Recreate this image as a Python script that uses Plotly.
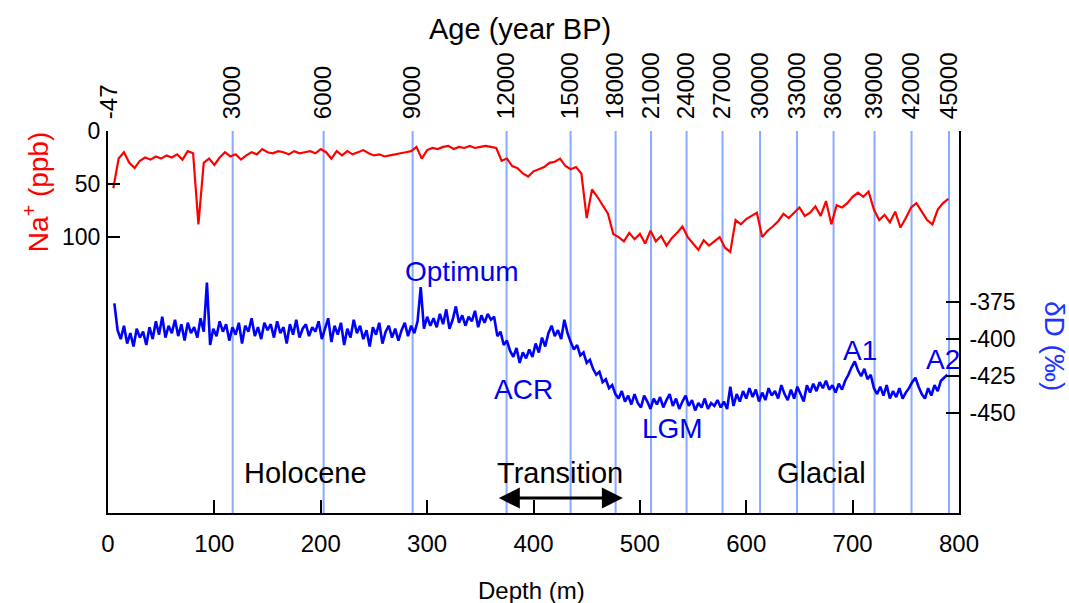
import plotly.graph_objects as go

# ---------------- data ----------------
# Na+ (ppb), sampled every 5 m starting at 5 m depth
na_start, na_step = 5, 5
na_ppb = [54, 26, 20, 30, 35, 28, 25, 27, 24, 26,
          23, 25, 22, 27, 19, 21, 88, 30, 26, 32,
          25, 20, 24, 22, 27, 23, 20, 22, 17, 20,
          21, 19, 20, 22, 19, 21, 20, 19, 21, 17,
          20, 26, 19, 23, 19, 22, 20, 18, 21, 23,
          22, 24, 23, 22, 21, 20, 19, 15, 26, 18,
          16, 17, 15, 14, 17, 15, 16, 14, 16, 15,
          14, 15, 16, 28, 26, 33, 35, 40, 43, 38,
          36, 34, 30, 29, 26, 33, 36, 34, 40, 82,
          55, 62, 70, 78, 97, 100, 104, 96, 102, 97,
          106, 94, 104, 99, 108, 101, 96, 90, 100, 106,
          112, 103, 108, 104, 100, 110, 114, 84, 88, 83,
          80, 77, 100, 94, 90, 85, 78, 82, 77, 72,
          80, 77, 71, 80, 66, 88, 70, 72, 68, 62,
          58, 62, 57, 74, 84, 79, 86, 76, 91, 82,
          72, 68, 76, 84, 88, 74, 68, 64]

# deltaD (permil), sampled every 3 m starting at 6 m depth
dd_start, dd_step = 6, 3
delta_d = [-376, -394, -400, -391, -403, -396, -405, -393, -399, -395,
           -404, -392, -400, -388, -397, -385, -399, -391, -396, -387,
           -398, -390, -401, -389, -396, -392, -399, -386, -395, -362,
           -404, -393, -398, -388, -395, -390, -401, -392, -397, -389,
           -403, -391, -395, -386, -398, -392, -400, -389, -394, -390,
           -399, -388, -396, -392, -403, -390, -397, -387, -399, -393,
           -390, -398, -392, -395, -388, -400, -393, -386, -402, -391,
           -397, -389, -404, -393, -399, -387, -396, -391, -400, -394,
           -405, -392, -397, -389, -403, -395, -391, -399, -393, -401,
           -394, -389, -398, -391, -396, -388, -365, -393, -385, -391,
           -386, -392, -383, -390, -380, -393, -387, -378, -389, -384,
           -391, -385, -388, -381, -392, -384, -389, -383, -387, -385,
           -398, -395, -404, -401, -408, -412, -406, -416, -409, -413,
           -407, -412, -403, -409, -399, -405, -396, -391, -398, -394,
           -400, -387, -396, -402, -407, -404, -411, -409, -416, -414,
           -420, -424, -422, -429, -427, -433, -431, -437, -440, -435,
           -442, -438, -444, -437, -443, -446, -438, -442, -447, -440,
           -444, -439, -446, -441, -437, -445, -440, -447, -442, -438,
           -445, -441, -448, -443, -446, -440, -447, -443, -445, -441,
           -446, -442, -447, -432, -445, -437, -442, -435, -440, -433,
           -439, -434, -442, -436, -441, -433, -438, -435, -440, -431,
           -437, -441, -434, -440, -432, -437, -442, -431, -436, -430,
           -435, -429, -433, -428, -434, -431, -436, -430, -434, -428,
           -424, -419, -415, -421, -425, -420, -427, -424, -433, -437,
           -432, -438, -431, -440, -435, -439, -433, -440, -436, -433,
           -429, -426, -432, -437, -440, -433, -438, -431, -435, -428,
           -426, -424]

# age scale (year BP) and the depth (m) at which each age is reached
age_labels = ["-47", "3000", "6000", "9000", "12000", "15000", "18000", "21000",
              "24000", "27000", "30000", "33000", "36000", "39000", "42000", "45000"]
age_depth = [1, 117.2, 202.7, 286.4, 374.7, 434.9, 477.2, 510.5,
             543.9, 577.7, 613.0, 647.7, 682.1, 720.6, 755.4, 790.6]

depth_ticks = [0, 100, 200, 300, 400, 500, 600, 700, 800]
na_ticks = [0, 50, 100]
dd_ticks = [-375, -400, -425, -450]
dd_tick_text = ["-375", "-400", "-425", "-450"]
transition_span = [366, 484]   # depth range of the transition arrow

na_depth = [na_start + na_step * i for i in range(len(na_ppb))]
dd_depth = [dd_start + dd_step * i for i in range(len(delta_d))]

FONT = "Arial, Liberation Sans, sans-serif"
GRID = "#88aaff"

fig = go.Figure()
fig.add_trace(go.Scatter(x=na_depth, y=na_ppb, mode="lines",
                         line=dict(color="#ff0000", width=2.2, simplify=False),
                         xaxis="x", yaxis="y", showlegend=False, hoverinfo="skip"))
fig.add_trace(go.Scatter(x=dd_depth, y=delta_d, mode="lines",
                         line=dict(color="#0000ff", width=2.6, simplify=False),
                         xaxis="x", yaxis="y2", showlegend=False, hoverinfo="skip"))
# invisible trace to register the top (age) axis
fig.add_trace(go.Scatter(x=age_depth, y=[None] * len(age_depth), mode="markers",
                         xaxis="x2", yaxis="y", showlegend=False, hoverinfo="skip"))

shapes = []
for d in age_depth[1:]:
    shapes.append(dict(type="line", xref="x", yref="paper", x0=d, x1=d, y0=0, y1=1,
                       line=dict(color=GRID, width=2), layer="below"))

def ann(text, x, y, size=28, color="black", angle=0):
    return dict(text=text, x=x, y=y, xref="paper", yref="paper", showarrow=False,
                font=dict(family=FONT, size=size, color=color), textangle=angle,
                xanchor="center", yanchor="middle")

annotations = [
    ann("Optimum", 0.416, 0.633, color="#0000ee"),
    ann("ACR", 0.4888, 0.3246, color="#0000ee"),
    ann("LGM", 0.6639, 0.2199, color="#0000ee"),
    ann("A1", 0.8837, 0.4241, color="#0000ee"),
    ann("A2", 0.9812, 0.4031, color="#0000ee"),
    ann("Holocene", 0.2315, 0.1047, size=29),
    ann("Transition", 0.5311, 0.1047, size=29),
    ann("Glacial", 0.839, 0.1047, size=29),
    ann("Age (year BP)", 0.4836, 1.267, size=29),
    ann("Depth (m)", 0.4982, -0.2016, size=24),
    ann("Na<sup>+</sup> (ppb)", -0.0846, 0.840, size=28, color="#ff0000", angle=-90),
    ann("δD (‰)", 1.1116, 0.4372, size=28, color="#2233ff", angle=90),
    dict(x=transition_span[1], y=0.039, ax=transition_span[0], ay=0,
         xref="x", yref="paper", axref="x", ayref="pixel", text="",
         showarrow=True, arrowhead=2, startarrowhead=2, arrowside="end+start",
         arrowsize=1.4, startarrowsize=1.4, arrowwidth=3, arrowcolor="black"),
]

fig.update_layout(
    width=1069, height=603,
    margin=dict(l=108, r=110, t=131, b=90),
    paper_bgcolor="white", plot_bgcolor="white",
    font=dict(family=FONT, color="black"),
    shapes=shapes, annotations=annotations,
    xaxis=dict(range=[0, 800], tickvals=depth_ticks, ticks="inside", ticklen=13,
               tickwidth=2, tickcolor="black", showline=True, linewidth=2,
               linecolor="black", showgrid=False, zeroline=False,
               tickfont=dict(size=24, family=FONT), ticklabelstandoff=8),
    xaxis2=dict(range=[0, 800], overlaying="x", side="top", anchor="y",
                tickvals=age_depth, ticktext=age_labels, tickangle=-90,
                ticks="outside", ticklen=6, tickcolor="rgba(0,0,0,0)",
                showline=False, showgrid=False, zeroline=False,
                tickfont=dict(size=24, family=FONT)),
    yaxis=dict(range=[360, 0], tickvals=na_ticks, ticks="inside", ticklen=12,
               tickwidth=2, tickcolor="black", showline=True, linewidth=2,
               linecolor="black", showgrid=False, zeroline=False,
               tickfont=dict(size=23, family=FONT), ticklabelstandoff=1),
    yaxis2=dict(range=[-517, -260], overlaying="y", side="right", anchor="x",
                tickvals=dd_ticks, ticktext=dd_tick_text, ticks="inside",
                ticklen=13, tickwidth=2,
                tickcolor="black", showline=True, linewidth=2, linecolor="black",
                showgrid=False, zeroline=False,
                tickfont=dict(size=23, family=FONT), ticklabelstandoff=4),
)

fig.write_html("out.html")
